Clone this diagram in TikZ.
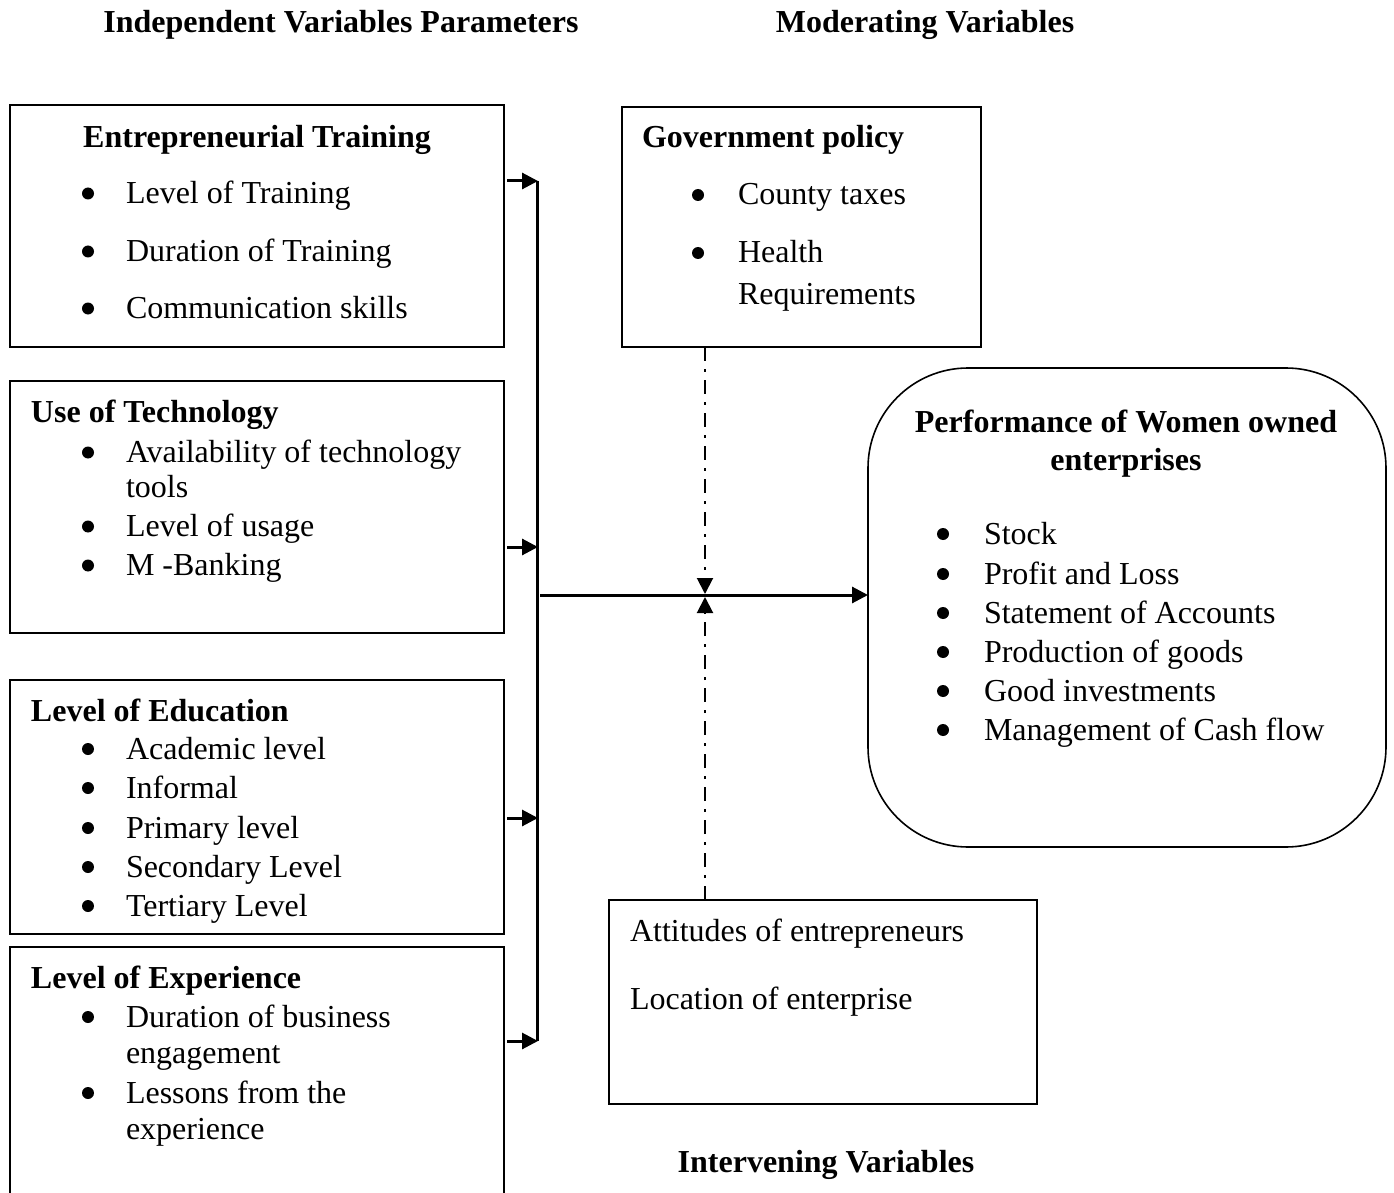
\documentclass[tikz,border=0pt]{standalone}
\usepackage{fontspec}
\setmainfont{Liberation Serif}
\usetikzlibrary{arrows.meta,fit}
\newcommand{\bodysize}{\fontsize{16pt}{19.5pt}\selectfont}
\begin{document}
\begin{tikzpicture}[x=0.5pt,y=-0.5pt,
  every node/.style={inner sep=0pt,outer sep=0pt,font=\bodysize},
  frame/.style={draw,line width=0.8pt},
  txt/.style={anchor=base west,yshift=-0.75pt},
  bul/.style={circle,fill,minimum size=6pt,yshift=4.25pt},
  hd/.style={anchor=base west,yshift=-0.75pt,font=\bodysize\bfseries},
  hdc/.style={anchor=base,yshift=-0.75pt,font=\bodysize\bfseries},
  arr/.style={line width=1.5pt,-{Triangle[length=8pt,width=8pt]}},
  dashdot/.style={line width=1pt,dash pattern=on 7pt off 4pt on 1.5pt off 4pt,
                  -{Triangle[length=8pt,width=8pt]}}]
\useasboundingbox (0,0) rectangle (1394,1193);

% column titles
\node[hdc] (tind) at (341,31) {Independent Variables Parameters};
\node[hdc] (tmod) at (925,31) {Moderating Variables};
\node[hdc] (tint) at (826,1171) {Intervening Variables};

% independent variable boxes
\node[frame,fit={(10,105)(504,347)}] (train) {};
\node[hdc] (trainh) at (257,146) {Entrepreneurial Training};
\node[bul] (tb1) at (88,202) {}; \node[txt] (tt1) at (126,202) {Level of Training};
\node[bul] (tb2) at (88,260) {}; \node[txt] (tt2) at (126,260) {Duration of Training};
\node[bul] (tb3) at (88,317) {}; \node[txt] (tt3) at (126,317) {Communication skills};

\node[frame,fit={(10,381)(504,633)}] (tech) {};
\node[hd] (techh) at (31,421) {Use of Technology};
\node[bul] (cb1) at (88,461) {}; \node[txt] (ct1) at (126,461) {Availability of technology};
\node[txt] (ct1b) at (126,496) {tools};
\node[bul] (cb2) at (88,535) {}; \node[txt] (ct2) at (126,535) {Level of usage};
\node[bul] (cb3) at (88,574) {}; \node[txt] (ct3) at (126,574) {M -Banking};

\node[frame,fit={(10,680)(504,934)}] (educ) {};
\node[hd] (educh) at (31,719.5) {Level of Education};
\node[bul] (eb1) at (88,757.5) {}; \node[txt] (et1) at (126,757.5) {Academic level};
\node[bul] (eb2) at (88,796.5) {}; \node[txt] (et2) at (126,796.5) {Informal};
\node[bul] (eb3) at (88,836.5) {}; \node[txt] (et3) at (126,836.5) {Primary level};
\node[bul] (eb4) at (88,875.5) {}; \node[txt] (et4) at (126,875.5) {Secondary Level};
\node[bul] (eb5) at (88,914.5) {}; \node[txt] (et5) at (126,914.5) {Tertiary Level};

% open at the bottom: the box runs past the lower edge
\node[fit={(10,947)(504,1200)}] (exper) {};
\draw[line width=0.8pt] (exper.south west) -- (exper.north west)
  -- (exper.north east) -- (exper.south east);
\node[hd] (experh) at (31,986.5) {Level of Experience};
\node[bul] (xb1) at (88,1025.5) {}; \node[txt] (xt1) at (126,1025.5) {Duration of business};
\node[txt] (xt1b) at (126,1061.5) {engagement};
\node[bul] (xb2) at (88,1101.5) {}; \node[txt] (xt2) at (126,1101.5) {Lessons from the};
\node[txt] (xt2b) at (126,1137.5) {experience};

% moderating variable
\node[frame,fit={(622,107)(981,347)}] (gov) {};
\node[hd] (govh) at (642,146.5) {Government policy};
\node[bul] (gb1) at (698,203.5) {}; \node[txt] (gt1) at (738,203.5) {County taxes};
\node[bul] (gb2) at (698,261.5) {}; \node[txt] (gt2) at (738,261.5) {Health};
\node[txt] (gt2b) at (738,303.5) {Requirements};

% dependent variable
\node[frame,rounded corners=50pt,fit={(868,368)(1386,847)}] (perf) {};
\node[hdc] (perfh1) at (1126,430.5) {Performance of Women owned};
\node[hdc] (perfh2) at (1126,468.5) {enterprises};
\node[bul] (pb1) at (943,542.5) {}; \node[txt] (pt1) at (984,542.5) {Stock};
\node[bul] (pb2) at (943,582.5) {}; \node[txt] (pt2) at (984,582.5) {Profit and Loss};
\node[bul] (pb3) at (943,621.5) {}; \node[txt] (pt3) at (984,621.5) {Statement of Accounts};
\node[bul] (pb4) at (943,660.5) {}; \node[txt] (pt4) at (984,660.5) {Production of goods};
\node[bul] (pb5) at (943,699.5) {}; \node[txt] (pt5) at (984,699.5) {Good investments};
\node[bul] (pb6) at (943,738.5) {}; \node[txt] (pt6) at (984,738.5) {Management of Cash flow};

% intervening variable
\node[frame,fit={(609,900)(1037,1104)}] (interv) {};
\node[txt] (it1) at (630,940) {Attitudes of entrepreneurs};
\node[txt] (it2) at (630,1008) {Location of enterprise};

% collecting bus and links
\coordinate (b1) at (538,181);
\coordinate (b2) at (538,547);
\coordinate (b3) at (538,818);
\coordinate (b4) at (538,1041);
\draw[line width=1.5pt] (537,181) -- (537,1041);
\draw[arr,shorten <=1.5pt] (train.east |- b1) -- (b1);
\draw[arr,shorten <=1.5pt] (tech.east |- b2) -- (b2);
\draw[arr,shorten <=1.5pt] (educ.east |- b3) -- (b3);
\draw[arr,shorten <=1.5pt] (exper.east |- b4) -- (b4);

\coordinate (mid) at (540,595);
\draw[arr] (mid) -- (mid -| perf.west);

\coordinate (mtop) at (705,594);
\coordinate (mbot) at (705,597);
\draw[dashdot] (gov.south -| mtop) -- (mtop);
\draw[dashdot] (interv.north -| mbot) -- (mbot);
\end{tikzpicture}
\end{document}
